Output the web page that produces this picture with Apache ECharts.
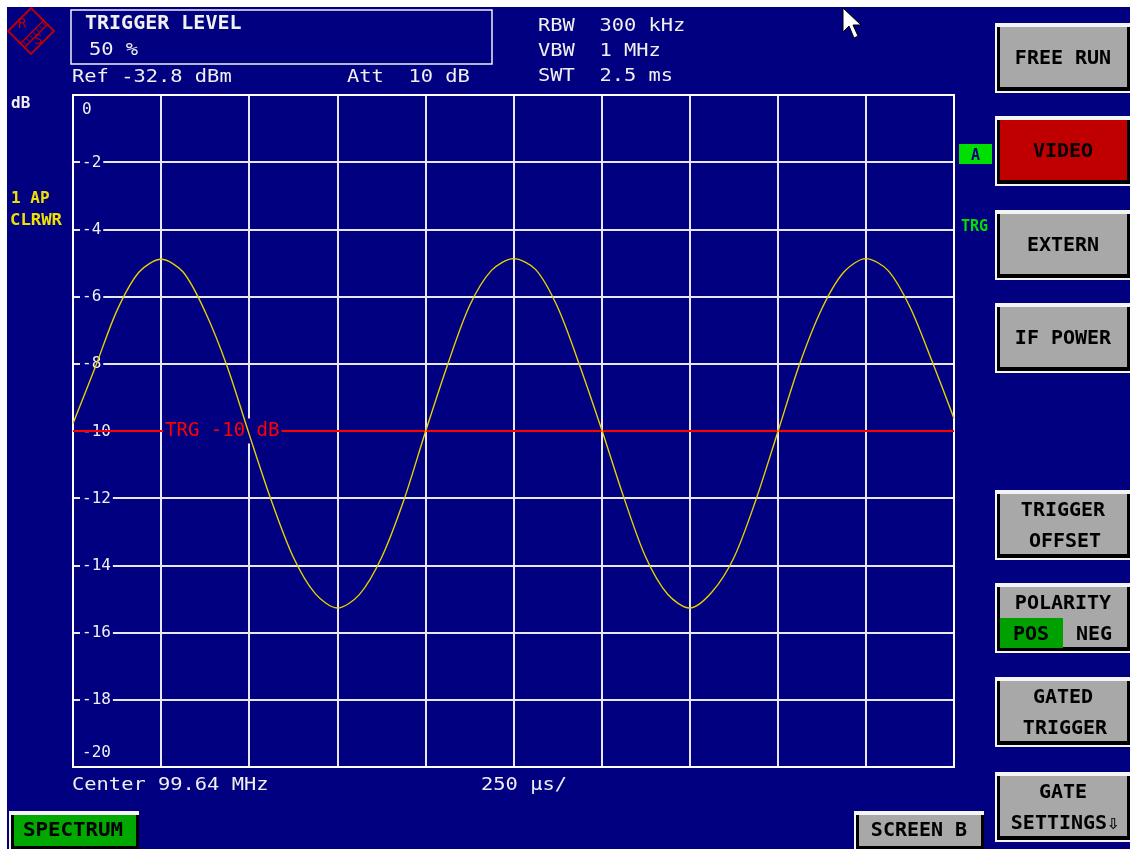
<!DOCTYPE html>
<html><head><meta charset="utf-8">
<script src="https://cdn.jsdelivr.net/npm/echarts@6/dist/echarts.min.js"></script>
<style>html,body{margin:0;padding:0;background:#fff}#c{width:1130px;height:849px}</style>
</head><body><div id="c"></div>
<script>
// ---- data (time in ms, level in dB) ----
const timeMs = [0,0.0625,0.125,0.1875,0.25,0.3125,0.375,0.4375,0.5,0.5625,0.625,0.6875,0.75,0.8125,0.875,0.9375,1,1.0625,1.125,1.1875,1.25,1.3125,1.375,1.4375,1.5,1.5625,1.625,1.6875,1.75,1.8125,1.875,1.9375,2,2.0625,2.125,2.1875,2.25,2.3125,2.375,2.4375,2.5];
const levelDb = [-9.78,-8.12,-6.41,-5.27,-4.89,-5.27,-6.45,-8.08,-10.10,-12.06,-13.75,-14.84,-15.27,-14.87,-13.78,-12.10,-10.03,-8.04,-6.28,-5.22,-4.87,-5.19,-6.31,-8.04,-9.95,-11.96,-13.75,-14.86,-15.27,-14.80,-13.78,-12.06,-10.03,-7.99,-6.36,-5.27,-4.87,-5.22,-6.31,-7.92,-9.63];
const yMin = -20, yMax = 0, yStep = 2;
const xMin = 0, xMax = 2.5, xStep = 0.25;
const triggerLevel = -10;
const triggerLabel = 'TRG -10 dB';
const headerLines = ['Ref -32.8 dBm', 'Att  10 dB', 'RBW  300 kHz', 'VBW  1 MHz', 'SWT  2.5 ms'];
const footerLines = ['Center 99.64 MHz', '250 \u00b5s/'];
const softkeys = [['FREE RUN'], ['VIDEO'], ['EXTERN'], ['IF POWER'], ['TRIGGER', 'OFFSET'], ['POLARITY'], ['GATED', 'TRIGGER'], ['GATE', 'SETTINGS\u21e9']];

// ---- styling ----
const NAVY = '#000080', GRIDC = '#e8e8f4', MONO = '"DejaVu Sans Mono", "Liberation Mono", monospace';
const DY = 2;
const g = [];
function rect(x, y, w, h, fill, z) { return { type: 'rect', z: z || 5, shape: { x, y, width: w, height: h }, style: { fill } }; }
function txt(x, y, text, o) {
  o = o || {};
  const al = o.align || 'left';
  return { type: 'text', x, y: y + (o.noDy ? 0 : DY), z: o.z || 20, scaleX: o.sx || 1,
    style: { text, fill: o.fill || '#f0f0f0', font: (o.bold ? 'bold ' : '') + (o.size || 17) + 'px ' + MONO,
      align: al, verticalAlign: 'middle', textAlign: al, textVerticalAlign: 'middle',
      backgroundColor: o.bg, padding: o.pad } };
}
// white strips at top and left
g.push(rect(0, 0, 1130, 7, '#ffffff', 50));
g.push(rect(0, 0, 7, 849, '#ffffff', 50));
// R&S logo
g.push({ type: 'polygon', z: 20, shape: { points: [[31, 8], [54, 31], [31, 54], [8, 31]] }, style: { fill: 'transparent', stroke: '#c00000', lineWidth: 1.8 } });
g.push({ type: 'line', z: 20, shape: { x1: 43, y1: 21, x2: 21, y2: 43 }, style: { stroke: '#c00000', lineWidth: 1.2 } });
g.push({ type: 'line', z: 20, shape: { x1: 47, y1: 25, x2: 25, y2: 47 }, style: { stroke: '#c00000', lineWidth: 1.2 } });
[0, 1, 2, 3, 4, 5, 6].forEach(k => { const cx = 42.5 - k * 3.2, cy = 22.5 + k * 3.2; g.push({ type: 'line', z: 20, shape: { x1: cx, y1: cy, x2: cx + 3.5, y2: cy + 3.5 }, style: { stroke: '#c00000', lineWidth: 1 } }); });
g.push(txt(18, 24, 'R', { fill: '#c00000', size: 14, noDy: true }));
g.push(txt(34, 40, 'S', { fill: '#c00000', size: 14, noDy: true }));
// header box
g.push({ type: 'rect', z: 20, shape: { x: 71, y: 10, width: 421, height: 54 }, style: { fill: 'transparent', stroke: '#f0f0f0', lineWidth: 1.5 } });
g.push(txt(85, 22, 'TRIGGER LEVEL', { bold: true, size: 20 }));
g.push(txt(89, 49, '50 %', { sx: 1.2 }));
g.push(txt(72, 76, headerLines[0], { sx: 1.2 }));
g.push(txt(347, 76, headerLines[1], { sx: 1.2 }));
g.push(txt(538, 25, headerLines[2], { sx: 1.2 }));
g.push(txt(538, 50, headerLines[3], { sx: 1.2 }));
g.push(txt(538, 75, headerLines[4], { sx: 1.2 }));
// mouse cursor
g.push({ type: 'polygon', z: 30, shape: { points: [[843, 8], [843, 32], [849, 26], [854, 38], [858, 36], [853, 25], [861, 25]] }, style: { fill: '#ffffff', stroke: '#000000', lineWidth: 1 } });
// left labels
g.push(txt(11, 102, 'dB', { bold: true, size: 16 }));
g.push(txt(11, 197, '1 AP', { bold: true, size: 16, fill: '#f0e000' }));
g.push(txt(10, 219, 'CLRWR', { bold: true, size: 16, fill: '#f0e000', sx: 1.08 }));
// right indicators
g.push(rect(959, 144, 33, 20, '#00e000', 20));
g.push(txt(975.5, 154, 'A', { bold: true, size: 15, fill: NAVY, align: 'center', z: 21 }));
g.push(txt(961, 225, 'TRG', { bold: true, size: 15, fill: '#00e000' }));
// footer text
g.push(txt(72, 784, footerLines[0], { sx: 1.2 }));
g.push(txt(481, 784, footerLines[1], { sx: 1.2 }));

function bevel(x0, y0, x1, y1, face) {
  g.push(rect(x0, y0, x1 - x0, y1 - y0, '#f4f4f4', 10));
  g.push(rect(x0 + 2, y0 + 4, x1 - x0 - 2, y1 - y0 - 6, '#000000', 11));
  g.push(rect(x0 + 5, y0 + 4, x1 - x0 - 8, y1 - y0 - 10, face, 12));
}
const keyTops = [23, 116, 210, 303, 490, 583, 677, 772];
softkeys.forEach((lines, i) => {
  const y0 = keyTops[i];
  bevel(995, y0, 1130, y0 + 70, i === 1 ? '#c00000' : '#a8a8a8');
  if (lines.length === 1 && i !== 5) {
    g.push(txt(1063, y0 + 34, lines[0], { bold: true, size: 20, fill: '#000000', align: 'center' }));
  } else {
    g.push(txt(1063, y0 + 19, lines[0], { bold: true, size: 20, fill: '#000000', align: 'center' }));
    if (lines[1]) g.push(txt(1065, y0 + 50, lines[1], { bold: true, size: 20, fill: '#000000', align: 'center' }));
  }
  if (i === 5) {
    g.push(rect(1000, y0 + 35, 63, 30, '#00a000', 15));
    g.push(txt(1031, y0 + 50, 'POS', { bold: true, size: 20, fill: '#000000', align: 'center' }));
    g.push(txt(1094, y0 + 50, 'NEG', { bold: true, size: 20, fill: '#000000', align: 'center' }));
  }
});
// bottom buttons
bevel(9, 811, 139, 852, '#00a800');
g.push(txt(73, 829, 'SPECTRUM', { bold: true, size: 20, fill: '#000000', align: 'center', sx: 1.04 }));
bevel(854, 811, 984, 852, '#a8a8a8');
g.push(txt(919, 829, 'SCREEN B', { bold: true, size: 20, fill: '#000000', align: 'center' }));

const chart = echarts.init(document.getElementById('c'), null, { renderer: 'canvas' });
const option = {
  backgroundColor: NAVY,
  animation: false,
  grid: { left: 73, right: 176, top: 95, bottom: 82, show: true, z: 2, backgroundColor: 'transparent', borderColor: '#ffffff', borderWidth: 2 },
  xAxis: { type: 'value', min: xMin, max: xMax, interval: xStep, axisLine: { show: false }, axisTick: { show: false }, axisLabel: { show: false },
    splitLine: { show: true, lineStyle: { color: GRIDC, width: 2 } } },
  yAxis: [
    { type: 'value', min: yMin, max: yMax, interval: yStep, axisLine: { show: false }, axisTick: { show: false }, axisLabel: { show: false },
      splitLine: { show: true, lineStyle: { color: GRIDC, width: 2 } } },
    { type: 'value', min: yMin, max: yMax, interval: yStep, position: 'left', z: 1, axisLine: { show: false }, axisTick: { show: false }, splitLine: { show: false },
      axisLabel: { inside: true, margin: 7, color: '#f0f0f0', fontFamily: MONO, fontSize: 16, backgroundColor: NAVY, padding: [2, 2, 1, 2],
        showMinLabel: true, showMaxLabel: true, verticalAlignMinLabel: 'bottom', verticalAlignMaxLabel: 'top',
        formatter: v => v === yMax ? '{top|' + v + '}' : (v === yMin ? '{bot|' + v + '}' : '{n|' + v + '}'),
        rich: { n: {}, top: { padding: [5, 0, 0, 0] }, bot: { padding: [0, 0, 5, 0] } } } }
  ],
  series: [{
    type: 'line', yAxisIndex: 0, z: 6, data: timeMs.map((t, i) => [t, levelDb[i]]), smooth: 0.3, symbol: 'none',
    lineStyle: { color: '#e6d000', width: 1.4 },
    markLine: { silent: true, z: 4, symbol: 'none', label: { show: false }, lineStyle: { color: '#ff0000', width: 2, type: 'solid' }, data: [{ yAxis: triggerLevel }] }
  }],
  graphic: { elements: g }
};
chart.setOption(option);
const p = chart.convertToPixel({ xAxisIndex: 0, yAxisIndex: 0 }, [xStep, triggerLevel]);
g.push(txt(p[0] + 2, p[1], triggerLabel, { fill: '#ff0000', size: 19, bg: NAVY, pad: [3, 2, 3, 2], z: 5, noDy: true }));
option.graphic = { elements: g };
chart.setOption(option, true);
</script></body></html>
